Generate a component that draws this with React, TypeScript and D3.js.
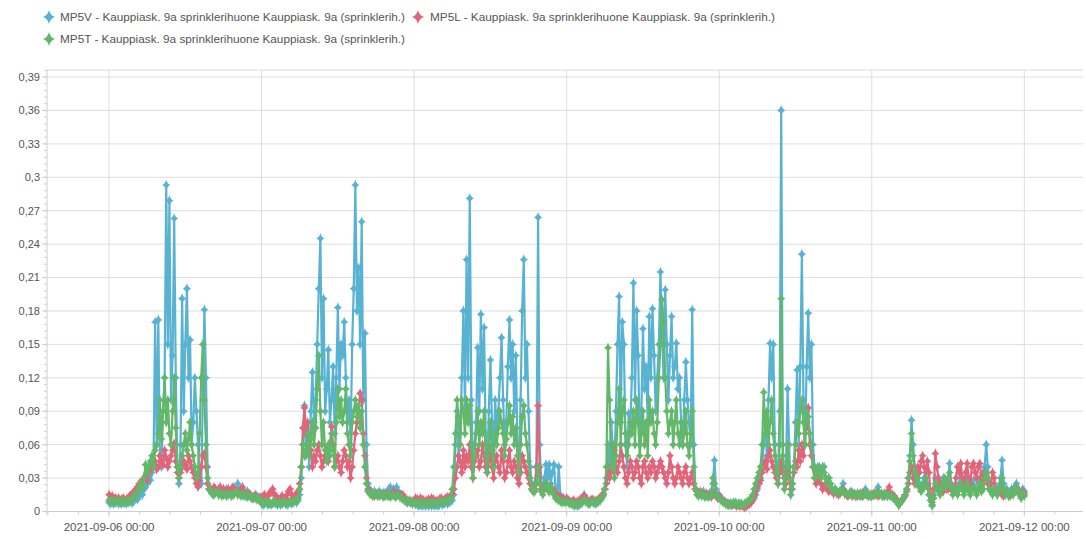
import React from 'react';
import * as d3 from 'd3';

// 15 min readings, 2021-09-06 00:00 .. 2021-09-12 00:00, values in 1/1000
const startTime = Date.UTC(2021, 8, 6, 0, 0);
const stepMs = 15 * 60 * 1000;

const seriesNames = [
  'MP5V - Kauppiask. 9a sprinklerihuone Kauppiask. 9a (sprinklerih.)',
  'MP5L - Kauppiask. 9a sprinklerihuone Kauppiask. 9a (sprinklerih.)',
  'MP5T - Kauppiask. 9a sprinklerihuone Kauppiask. 9a (sprinklerih.)',
];
const seriesColors = ['#58b2d2', '#e0657b', '#62b868'];

const yTicks = [0, 0.03, 0.06, 0.09, 0.12, 0.15, 0.18, 0.21, 0.24, 0.27, 0.3, 0.33, 0.36, 0.39];
const dayTicks = ['2021-09-06', '2021-09-07', '2021-09-08', '2021-09-09', '2021-09-10', '2021-09-11', '2021-09-12'];

const mp5v = [
  // 09-06
  8,7,8,7,8,8,7,8,7,8,8,7,8,9,8,8, 10,12,11,14,16,15,20,22,25,30,28,35,
  45,170,60,172, 50,40,90,120,
  293,150,279,100,140,263,120,40,25,60,191,90,150,200,120,154,60,80,120,90,60,30,25,100,181,120,40,20,
  18,16,17,20,18,15,17,18,16,15,20,18,17,16,15,18,20,25,18,16,15,14,16,18,15,14,12,13,15,14,12,13,
  // 09-07
  7,6,7,8,6,7,6,7,8,7,6,7,6,7,8,7,6,7,8,7,8,9,8,10,
  15,30,60,95, 50,70,40,90, 125,80,100,150, 200,245,120,191, 90,110,145,80, 100,130,70,120,
  183,110,150,140, 170,120,80,100, 60,150,200,293, 180,219,150,260, 100,160,60,25,
  20,18,16,18,15,16,18,15,16,17,15,16,20,22,18,20,15,22,18,16,15,12,10,9,8,9,8,7,
  // 09-08
  8,7,6,5,6,5,6,5,6,5,6,5,6,5,6,5,6,7,6,7,8,7,8,9,
  10,15,60,90, 50,70,120,180, 90,226,120,281, 100,40,60,80, 147,90,177,110, 165,70,40,90,
  136,80,50,100, 70,90,120,156, 100,60,80,130, 172,120,150,90, 140,60,40,100, 180,226,120,150,
  90,40,25,20, 25,40,264,60, 25,20,30,42, 30,42,25,35, 42,20,15,40, 15,12,10,9,
  // 09-09
  10,9,8,7,6,5,6,5,6,7,8,15,10,8,7,8,9,8,7,8,9,10,12,15,
  20,30,60,40, 80,60,40,90, 150,193,80,170, 150,60,40,88, 70,120,205,100, 180,140,60,90,
  164,110,130,80, 175,120,182,140, 90,120,150,215, 160,120,199,150, 100,140,175,120, 130,151,110,120,
  80,60,100,134, 100,80,60,181, 60,20,18,15, 16,15,18,16, 15,14,16,18, 25,46,20,15,
  // 09-10
  15,12,10,9,8,7,6,7,6,7,8,7,6,7,6,5,6,5,6,7,8,10,12,15,
  20,25,30,40, 60,80,50,100, 151,120,150,60, 40,30,90,360, 60,25,40,110, 60,15,20,40,
  80,127,60,130, 231,100,60,130, 178,120,150,60, 40,30,35,40, 30,35,40,30, 25,30,25,20,
  18,20,18,16, 18,20,25,18, 16,15,16,18, 16,15,14,16, 15,16,14,15, 20,16,15,14,
  // 09-11 (+ 09-12 00:00)
  14,15,16,18,22,16,15,14,16,15,14,15,14,13,12,11, 8,6,8,10,12,15,20,30,
  50,82,60,40,30,35,25,20, 25,30,35,25,15,10,6,15, 30,25,20,18,25,30,22,20, 30,43,25,18,20,22,18,25,
  30,22,18,25,30,20,18,22, 28,20,18,25,30,22,35,40, 60,40,25,20,18,25,20,18, 22,30,46,25,18,20,15,18,
  20,18,22,25,20,18,15,20,18,
];

const mp5l = [
  // 09-06
  15,12,14,10,12,11,12,10,11,12,10,11,12,14,15,16, 18,20,22,25,24,28,30,32,28,35,38,40,
  42,45,38,40,50,45,42,55, 48,40,45,50,55,61,45,35, 30,35,40,45,42,38,50,45, 40,35,30,25,22,28,40,50,
  52,40,25,20,
  20,18,22,20,18,20,22,18,20,19,17,20,18,20,22,20,18,16,18,20,22,18,15,14,16,15,13,12,14,12,11,12,
  // 09-07
  12,14,15,12,14,16,18,20,15,14,12,10,12,14,10,12,15,18,20,15,12,14,16,18,
  25,40,75,93, 70,80,60,55, 40,50,45,55, 60,50,40,45, 50,55,45,60, 76,60,40,45,
  50,40,35,45, 55,50,40,45, 30,40,55,70, 80,90,106,100, 70,50,30,20,
  18,16,15,14,16,15,14,16,15,14,15,16,14,15,16,18,15,14,16,15,14,15,12,10,9,10,9,8,
  // 09-08
  10,12,11,10,12,11,10,9,10,11,10,12,11,10,9,10,11,12,10,11,12,13,12,14,
  16,20,30,40, 50,45,35,55, 40,50,45,60, 40,30,45,50, 55,40,45,60, 50,40,35,45,
  55,40,30,45, 50,40,35,55, 45,30,35,45, 55,40,35,45, 40,30,25,35, 50,45,40,35,
  30,25,20,18, 20,40,95,40, 20,18,22,25, 20,18,22,20, 18,16,15,14, 12,11,12,10,
  // 09-09
  12,10,9,8,10,9,8,9,10,11,12,14,12,10,9,10,11,10,9,10,11,12,14,16,
  20,25,40,30, 35,45,55,40, 35,45,60,50, 40,30,25,35, 45,40,30,35, 45,40,30,25,
  40,45,35,30, 40,35,45,40, 30,35,40,45, 40,35,30,25, 35,50,40,30, 25,30,40,35,
  30,25,35,40, 30,25,30,35, 25,20,18,16, 18,16,15,14, 16,15,14,13, 15,16,14,12,
  // 09-10
  14,12,10,9,8,7,6,7,6,7,6,5,6,5,6,5,4,5,6,7,8,10,14,18,
  22,25,28,35, 40,45,38,50, 55,45,40,35, 30,25,35,45, 35,30,25,40, 30,20,25,35,
  45,40,55,45, 60,50,70,75, 93,60,50,40, 30,25,28,30, 25,20,22,25, 20,18,20,18,
  16,18,16,15, 16,18,20,16, 15,14,16,15, 14,16,15,14, 15,14,16,15, 16,15,14,15,
  // 09-11 (+ 09-12 00:00)
  15,16,15,16,14,15,16,15,14,16,18,22,16,15,14,12, 10,6,8,10,12,14,18,25,
  35,40,30,25,30,40,35,45, 50,40,30,45,35,15,8,20, 52,40,30,25,20,18,22,25, 20,25,22,18,20,30,40,35,
  43,30,25,35,43,30,25,40, 43,35,30,40,43,30,25,35, 30,25,20,25,35,30,20,15, 18,20,15,14,16,18,15,14,
  16,18,20,22,18,16,14,18,16,
];

const mp5t = [
  // 09-06
  10,9,10,8,9,10,9,8,10,9,8,9,10,9,10,11, 14,15,18,20,25,22,30,42,35,40,45,50,
  40,55,60,70,100,65,90,120, 80,100,70,60,90,120,75,40, 30,40,50,60,70,55,65,80, 60,50,40,30,35,70,120,150,
  100,60,30,20,
  18,16,15,17,18,15,16,14,15,16,14,15,16,14,15,16,18,15,16,14,15,16,14,13,14,13,12,13,12,11,12,11,
  // 09-07
  8,7,8,9,7,8,7,8,9,8,7,8,7,8,9,8,7,8,9,8,9,10,9,12,
  20,40,60,50, 55,70,50,65, 80,60,75,110, 140,90,60,80, 55,45,60,50, 70,55,40,80,
  110,85,100,80, 90,110,70,60, 50,80,90,100, 85,95,75,90, 60,40,25,18,
  16,15,14,15,16,14,15,16,14,13,15,14,15,13,14,15,13,14,15,13,12,11,10,9,10,9,8,9,
  // 09-08
  8,7,8,7,8,7,8,7,8,7,8,7,8,7,8,7,8,9,8,9,10,9,10,12,
  20,40,70,100, 85,60,100,90, 70,100,80,95, 60,30,50,70, 90,60,80,70, 90,50,35,60,
  80,55,40,70, 60,75,90,80, 70,50,65,80, 95,70,85,60, 75,50,35,60, 85,95,70,60,
  45,30,20,18, 18,25,40,25, 18,15,20,25, 20,18,22,18, 15,12,11,10, 9,8,9,8,
  // 09-09
  9,8,7,8,7,6,7,6,7,8,9,10,9,8,7,8,9,8,9,8,9,10,12,14,
  20,40,147,100, 40,60,30,50, 80,110,60,90, 100,70,50,60, 80,70,90,60, 100,80,50,70,
  90,60,80,50, 100,80,90,70, 60,80,120,150, 190,170,120,90, 70,80,90,60, 80,100,70,60,
  80,60,70,90, 60,50,70,90, 40,20,15,14, 16,14,15,13, 14,13,15,14, 30,25,15,13,
  // 09-10
  12,10,9,8,7,6,7,6,7,8,7,6,7,6,7,6,7,8,9,10,12,15,20,25,
  30,35,40,60, 107,70,90,60, 80,100,70,50, 35,25,60,191, 50,20,30,60, 40,15,25,40,
  60,80,70,90, 100,80,60,90, 85,70,60,40, 30,35,40,35, 30,40,35,30, 25,30,25,20,
  18,20,18,16, 18,20,18,16, 16,15,16,15, 16,15,14,16, 15,16,14,15, 16,15,14,15,
  // 09-11 (+ 09-12 00:00)
  14,15,16,15,18,16,15,14,16,15,14,15,14,13,12,11, 8,6,8,10,12,15,20,30,
  45,70,50,35,25,30,22,18, 20,25,30,22,15,10,5,12, 25,22,18,15,20,25,30,22, 28,35,22,15,18,20,15,22,
  25,20,15,20,25,18,15,20, 22,18,15,20,25,18,20,30, 35,30,20,18,15,20,18,15, 18,25,30,20,15,18,14,15,
  18,15,20,22,18,15,12,16,14,
];

const W = 1086;
const H = 539;
const plot = { left: 47, top: 70, right: 1083, bottom: 511.5 };
const HOUR = 3600 * 1000;
const DAY = 24 * HOUR;

const x = d3
  .scaleUtc()
  .domain([startTime - 9.76 * HOUR, startTime + 6 * DAY + 9.23 * HOUR])
  .range([plot.left, plot.right]);

const y = d3.scaleLinear().domain([0, 0.3963]).range([plot.bottom, plot.top]);

const fmtY = (v: number) => String(+v.toFixed(2)).replace('.', ',');
const fmtX = d3.utcFormat('%Y-%m-%d %H:%M');

// concave diamond like the legend glyph
const star = (w: number, h: number) => {
  const c = 0.22;
  return `M0,${-h}Q${w * c},${-h * c} ${w},0Q${w * c},${h * c} 0,${h}Q${-w * c},${h * c} ${-w},0Q${-w * c},${-h * c} 0,${-h}Z`;
};

export default function App() {
  const series = [mp5v, mp5l, mp5t].map((vals, k) => ({
    name: seriesNames[k],
    color: seriesColors[k],
    points: vals.map((v, i) => ({ t: startTime + i * stepMs, v: v / 1000 })),
  }));

  const line = d3
    .line<{ t: number; v: number }>()
    .x((d) => x(d.t))
    .y((d) => y(d.v));

  const days = dayTicks.map((d) => Date.parse(d + 'T00:00:00Z'));
  const minorX: number[] = [];
  const [x0, x1] = x.domain().map((d) => +d);
  for (let t = days[0] - DAY; t <= x1; t += DAY / 5) {
    if (t >= x0) minorX.push(t);
  }
  const minorY: number[] = [];
  for (let k = 0; k <= 66; k++) minorY.push(k * 0.006);

  const marker = star(4.2, 5.6);
  const legendMarker = star(6, 7);

  const legend = [
    { s: 0, mx: 49, tx: 60, ty: 17 },
    { s: 1, mx: 418, tx: 430, ty: 17 },
    { s: 2, mx: 49, tx: 60, ty: 39 },
  ];

  return (
    <svg width={W} height={H} style={{ display: 'block', fontFamily: 'Liberation Sans, Arial, sans-serif' }}>
      <style>{`body{margin:0}`}</style>
      <rect width={W} height={H} fill="#fff" />

      {/* legend */}
      {legend.map((l) => (
        <g key={l.s}>
          <path d={legendMarker} transform={`translate(${l.mx},${l.ty})`} fill={seriesColors[l.s]} />
          <text x={l.tx} y={l.ty + 4} fontSize={11} fill="#555" textLength={345} lengthAdjust="spacingAndGlyphs">
            {seriesNames[l.s]}
          </text>
        </g>
      ))}

      {/* grid */}
      {yTicks.map((t) => (
        <line key={'gy' + t} x1={plot.left} x2={plot.right} y1={y(t)} y2={y(t)} stroke="#dedede" strokeWidth={1} />
      ))}
      {days.map((t) => (
        <line key={'gx' + t} x1={x(t)} x2={x(t)} y1={plot.top} y2={plot.bottom} stroke="#dedede" strokeWidth={1} />
      ))}
      <line x1={plot.left} x2={plot.right} y1={plot.top} y2={plot.top} stroke="#dcdcdc" />
      <line x1={plot.left} x2={plot.left} y1={plot.top} y2={plot.bottom + 4} stroke="#cfcfcf" />
      <line x1={plot.left - 4} x2={plot.right} y1={plot.bottom} y2={plot.bottom} stroke="#cfcfcf" />

      {/* y axis */}
      {minorY
        .filter((v) => y(v) >= plot.top)
        .map((v) => (
          <line key={'my' + v} x1={plot.left - 3} x2={plot.left} y1={y(v)} y2={y(v)} stroke="#cfcfcf" />
        ))}
      {yTicks.map((t) => (
        <g key={'ty' + t}>
          <line x1={plot.left - 5} x2={plot.left} y1={y(t)} y2={y(t)} stroke="#cfcfcf" />
          <text x={40} y={y(t)} dy="0.35em" textAnchor="end" fontSize={11} fill="#555">
            {fmtY(t)}
          </text>
        </g>
      ))}

      {/* x axis */}
      {minorX.map((t) => (
        <line key={'mx' + t} x1={x(t)} x2={x(t)} y1={plot.bottom} y2={plot.bottom + 3} stroke="#cfcfcf" />
      ))}
      {days.map((t) => (
        <g key={'tx' + t}>
          <line x1={x(t)} x2={x(t)} y1={plot.bottom} y2={plot.bottom + 5} stroke="#cfcfcf" />
          <text x={x(t)} y={531} textAnchor="middle" fontSize={11.5} fill="#555">
            {fmtX(new Date(t))}
          </text>
        </g>
      ))}

      {/* series */}
      {series.map((s) => (
        <g key={s.name}>
          <path d={line(s.points) || ''} fill="none" stroke={s.color} strokeWidth={2.2} strokeLinejoin="round" />
          {s.points.map((p, i) => (
            <path key={i} d={marker} transform={`translate(${x(p.t)},${y(p.v)})`} fill={s.color} />
          ))}
        </g>
      ))}
    </svg>
  );
}
